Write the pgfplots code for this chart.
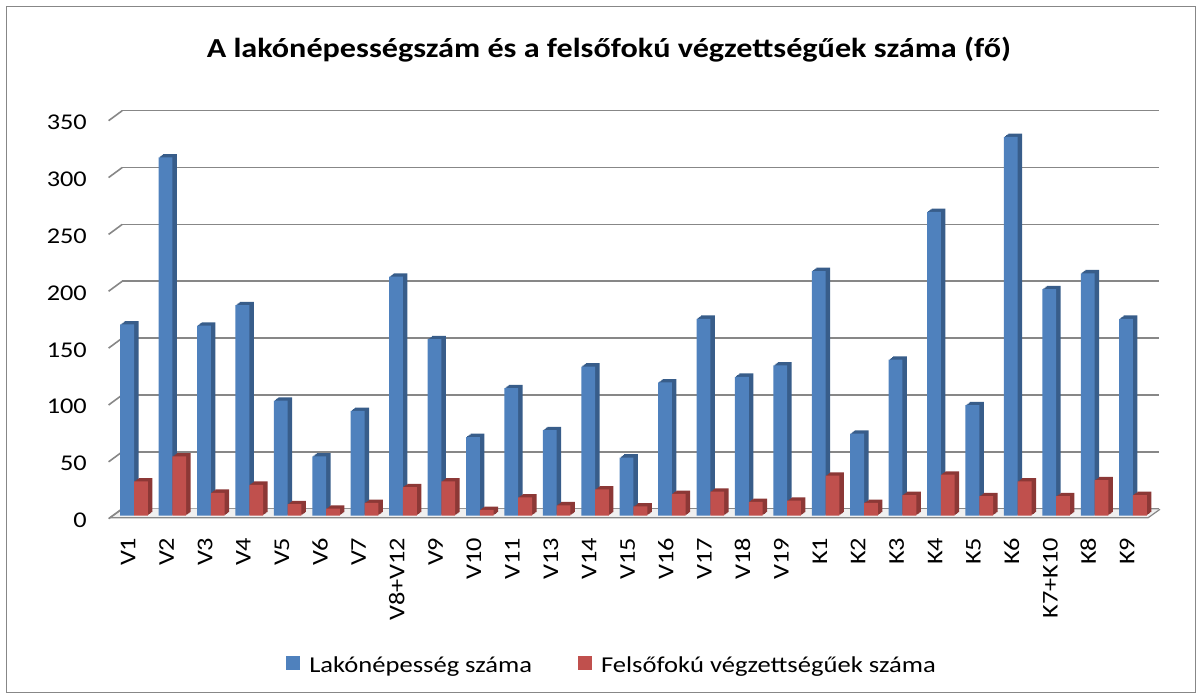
\documentclass[border=0pt]{standalone}
\usepackage{fontspec}
\setmainfont{Carlito}[FakeStretch=1.17]
\usepackage{pgfplots}
\usepackage{pgfplotstable}
\pgfplotsset{compat=1.18}
\definecolor{bluef}{HTML}{4F81BD}
\definecolor{blues}{HTML}{385D8A}
\definecolor{redf}{HTML}{C0504D}
\definecolor{reds}{HTML}{8C3836}
\definecolor{gridc}{HTML}{878787}
\pgfplotstableread{
x blue red
0 168 30
1 315 52
2 167 20
3 185 27
4 101 10
5 52 6
6 92 11
7 210 25
8 155 30
9 69 5
10 112 16
11 75 9
12 131 23
13 51 8
14 117 19
15 173 21
16 122 12
17 132 13
18 215 35
19 72 11
20 137 18
21 267 36
22 97 17
23 333 30
24 199 17
25 213 31
26 173 18
}\data
\begin{document}
\begin{tikzpicture}
\draw[gridc, line width=1pt] (6.5pt,6.5pt) rectangle (1195.5pt,692.5pt);
\begin{axis}[
  at={(114.8pt,183.5pt)}, anchor=south west,
  scale only axis, width=1037.4pt, height=398pt,
  xmin=-0.5, xmax=26.5, ymin=0, ymax=350,
  clip=false,
  axis line style={draw=none}, tick style={draw=none},
  ytick={0,50,...,350}, xtick={0,...,26},
  xticklabels={V1,V2,V3,V4,V5,V6,V7,V8+V12,V9,V10,V11,V13,V14,V15,V16,V17,V18,V19,K1,K2,K3,K4,K5,K6,K7+K10,K8,K9},
  /pgf/number format/assume math mode=true,
  ymajorgrids,
  major grid style={gridc, line width=1.6pt, shift={(7.2pt,6.8pt)}},
  yticklabel style={font=\fontsize{22.5}{27}\selectfont, inner sep=0pt, text height=14.2pt, text depth=0pt, anchor=east, xshift=-27.8pt, yshift=-5pt},
  xticklabel style={font=\fontsize{22.5}{27}\selectfont, inner sep=0pt, text height=14.2pt, text depth=0pt, xshift=-5.7pt, yshift=-22pt, rotate=90, anchor=east},
  title={A lakónépességszám és a felsőfokú végzettségűek száma (fő)},
  title style={at={(0.4764,1.1349)}, anchor=base, font=\bfseries\fontsize{27.5}{32}\selectfont},
  legend style={at={(0.4793,-0.3756)}, anchor=center, draw=none, fill=none,
    legend columns=2, font=\fontsize{22.7}{27}\selectfont,
    /tikz/every odd column/.append style={column sep=7pt},
    /tikz/every even column/.append style={column sep=44pt}},
  legend image code/.code={\fill[#1, draw=none] (0pt,-5pt) rectangle (14pt,9pt);},
]
% floor
\fill[gray!12] ([shift={(-5pt,-2.2pt)}]axis cs:-0.5,0) -- ([shift={(-4pt,-2.2pt)}]axis cs:26.5,0) -- ([shift={(7.8pt,6.2pt)}]axis cs:26.5,0) -- ([shift={(8pt,6.8pt)}]axis cs:-0.5,0) -- cycle;
\draw[gridc, line width=1.2pt] ([shift={(-5pt,-2.2pt)}]axis cs:-0.5,0) -- ([shift={(-4pt,-2.2pt)}]axis cs:26.5,0) -- ([shift={(7.8pt,6.2pt)}]axis cs:26.5,0);
\draw[gridc, line width=1.2pt] ([shift={(-5pt,-2.2pt)}]axis cs:-0.5,0) -- ([shift={(8pt,6.8pt)}]axis cs:-0.5,0);
% side diagonals
\pgfplotsinvokeforeach{0,50,100,150,200,250,300,350}{
  \draw[gridc, line width=1.6pt] ([shift={(-6.2pt,-3.2pt)}]axis cs:-0.5,#1) -- ([shift={(7.4pt,6.8pt)}]axis cs:-0.5,#1);
}
% blue bars
\pgfplotsinvokeforeach{1,2,3,4}{
  \addplot[ybar, bar width=13.8pt, bar shift=-6.9pt, fill=blues, draw=none, forget plot, xshift=#1*1.125pt, yshift=#1*0.825pt] table[x=x,y=blue]{\data};
}
\addplot[ybar, bar width=13.8pt, bar shift=-6.9pt, fill=bluef, draw=none] table[x=x,y=blue]{\data};
\addlegendentry{Lakónépesség száma}
% red bars
\pgfplotsinvokeforeach{1,2,3,4}{
  \addplot[ybar, bar width=13.8pt, bar shift=6.9pt, fill=reds, draw=none, forget plot, xshift=#1*1.125pt, yshift=#1*0.825pt] table[x=x,y=red]{\data};
}
\addplot[ybar, bar width=13.8pt, bar shift=6.9pt, fill=redf, draw=none] table[x=x,y=red]{\data};
\addlegendentry{Felsőfokú végzettségűek száma}
\end{axis}
\pgfresetboundingbox
\path[use as bounding box] (0,0) rectangle (1202pt,699pt);
\end{tikzpicture}
\end{document}
